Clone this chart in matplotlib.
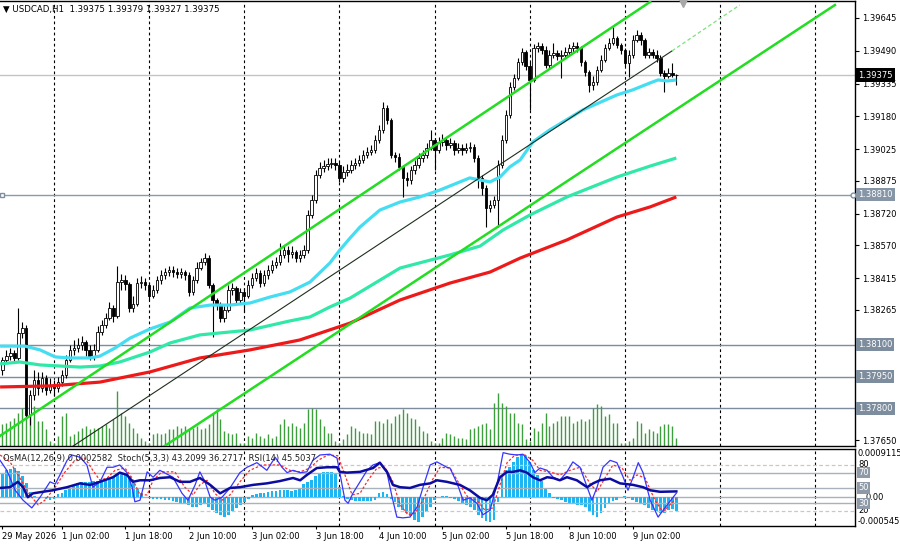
import matplotlib
matplotlib.use("Agg")
import matplotlib.pyplot as plt
import matplotlib.transforms as mtransforms
import numpy as np

plt.rcParams['font.family'] = ['DejaVu Sans']

# ---------------- data ----------------
first_bar = -13          # bar index of first candle (0 = 1 Jun 00:00, H1 bars)
first_open = 1.37981
closes = [1.38028, 1.38047, 1.38061, 1.38038, 1.38156, 1.38180, 1.37768, 1.37863, 1.37934, 1.37896, 1.37943, 1.37887, 1.37910,
          1.37896, 1.37924, 1.37957, 1.38028, 1.38076, 1.38085, 1.38099, 1.38113, 1.38076, 1.38047,
          1.38076, 1.38161, 1.38194, 1.38227, 1.38274, 1.38236, 1.38397, 1.38407, 1.38388, 1.38274,
          1.38293, 1.38392, 1.38397, 1.38383, 1.38331, 1.38359, 1.38407, 1.38430, 1.38444, 1.38454,
          1.38444, 1.38435, 1.38444, 1.38430, 1.38350, 1.38407, 1.38463, 1.38492, 1.38510, 1.38383,
          1.38312, 1.38288, 1.38227, 1.38265, 1.38359, 1.38369, 1.38312, 1.38350, 1.38331, 1.38383,
          1.38416, 1.38440, 1.38392, 1.38430, 1.38454, 1.38477, 1.38492, 1.38525, 1.38548, 1.38529,
          1.38539, 1.38510, 1.38525, 1.38548, 1.38714, 1.38785, 1.38903, 1.38936, 1.38945, 1.38955,
          1.38960, 1.38950, 1.38889, 1.38917, 1.38926, 1.38950, 1.38960, 1.38974, 1.38997, 1.39012,
          1.39021, 1.39068, 1.39116, 1.39220, 1.39163, 1.38997, 1.38988, 1.38941, 1.38889, 1.38879,
          1.38926, 1.38950, 1.38983, 1.38997, 1.39030, 1.39068, 1.39021, 1.39059, 1.39068, 1.39045,
          1.39054, 1.39021, 1.39030, 1.39021, 1.39030, 1.39035, 1.38983, 1.38889, 1.38841, 1.38747,
          1.38761, 1.38785, 1.38950, 1.39068, 1.39187, 1.39319, 1.39361, 1.39437, 1.39484, 1.39418,
          1.39352, 1.39503, 1.39513, 1.39494, 1.39423, 1.39470, 1.39480, 1.39465, 1.39470, 1.39484,
          1.39503, 1.39513, 1.39503, 1.39437, 1.39390, 1.39328, 1.39342, 1.39399, 1.39446, 1.39503,
          1.39527, 1.39550, 1.39517, 1.39494, 1.39432, 1.39470, 1.39541, 1.39565, 1.39541, 1.39470,
          1.39484, 1.39470, 1.39456, 1.39385, 1.39371, 1.39385, 1.39375, 1.39375]
highs = [1.38043, 1.38076, 1.38085, 1.38076, 1.38274, 1.38208, 1.38194, 1.37887, 1.37981, 1.37972, 1.37972, 1.37957, 1.37943,
         1.37934, 1.37948, 1.37981, 1.38052, 1.38099, 1.38123, 1.38132, 1.38142, 1.38123, 1.38099,
         1.38104, 1.38189, 1.38217, 1.38251, 1.38303, 1.38288, 1.38473, 1.38435, 1.38430, 1.38397,
         1.38331, 1.38416, 1.38425, 1.38416, 1.38397, 1.38383, 1.38425, 1.38454, 1.38463, 1.38473,
         1.38473, 1.38463, 1.38463, 1.38454, 1.38444, 1.38425, 1.38492, 1.38510, 1.38534, 1.38525,
         1.38392, 1.38321, 1.38303, 1.38284, 1.38383, 1.38392, 1.38378, 1.38369, 1.38369, 1.38407,
         1.38440, 1.38463, 1.38454, 1.38454, 1.38477, 1.38501, 1.38515, 1.38581, 1.38572, 1.38567,
         1.38567, 1.38548, 1.38548, 1.38572, 1.38737, 1.38808, 1.38926, 1.38964, 1.38974, 1.38983,
         1.38983, 1.38983, 1.38964, 1.38945, 1.38955, 1.38974, 1.38983, 1.38997, 1.39021, 1.39035,
         1.39045, 1.39092, 1.39139, 1.39248, 1.39234, 1.39172, 1.39012, 1.39007, 1.38950, 1.38917,
         1.38945, 1.38974, 1.39007, 1.39021, 1.39054, 1.39116, 1.39078, 1.39083, 1.39097, 1.39078,
         1.39078, 1.39068, 1.39054, 1.39049, 1.39054, 1.39059, 1.39049, 1.38997, 1.38903, 1.38856,
         1.38785, 1.38804, 1.38974, 1.39092, 1.39210, 1.39342, 1.39380, 1.39456, 1.39503, 1.39494,
         1.39437, 1.39522, 1.39532, 1.39527, 1.39513, 1.39494, 1.39527, 1.39494, 1.39494, 1.39508,
         1.39522, 1.39532, 1.39532, 1.39513, 1.39446, 1.39399, 1.39371, 1.39418, 1.39470, 1.39522,
         1.39550, 1.39603, 1.39560, 1.39527, 1.39503, 1.39494, 1.39565, 1.39588, 1.39579, 1.39550,
         1.39503, 1.39498, 1.39494, 1.39470, 1.39399, 1.39409, 1.39432, 1.39379]
lows = [1.37957, 1.38014, 1.38028, 1.38019, 1.38028, 1.38132, 1.37754, 1.37721, 1.37839, 1.37863, 1.37877, 1.37863, 1.37872,
        1.37858, 1.37877, 1.37906, 1.37943, 1.38019, 1.38052, 1.38066, 1.38076, 1.38047, 1.38028,
        1.38028, 1.38066, 1.38147, 1.38180, 1.38217, 1.38208, 1.38227, 1.38359, 1.38359, 1.38255,
        1.38255, 1.38284, 1.38369, 1.38359, 1.38312, 1.38321, 1.38345, 1.38388, 1.38411, 1.38425,
        1.38421, 1.38416, 1.38416, 1.38407, 1.38331, 1.38336, 1.38392, 1.38454, 1.38477, 1.38369,
        1.38137, 1.38265, 1.38208, 1.38208, 1.38255, 1.38336, 1.38293, 1.38298, 1.38255, 1.38321,
        1.38369, 1.38402, 1.38373, 1.38378, 1.38411, 1.38440, 1.38463, 1.38477, 1.38510, 1.38492,
        1.38510, 1.38492, 1.38492, 1.38510, 1.38534, 1.38700, 1.38771, 1.38889, 1.38917, 1.38926,
        1.38936, 1.38926, 1.38870, 1.38870, 1.38898, 1.38912, 1.38931, 1.38945, 1.38960, 1.38983,
        1.38997, 1.39007, 1.39054, 1.39101, 1.39144, 1.38983, 1.38964, 1.38926, 1.38799, 1.38851,
        1.38860, 1.38908, 1.38936, 1.38964, 1.38983, 1.39021, 1.38926, 1.39007, 1.39040, 1.39021,
        1.39030, 1.38997, 1.39007, 1.38997, 1.39007, 1.39012, 1.38964, 1.38841, 1.38808, 1.38657,
        1.38728, 1.38747, 1.38657, 1.38936, 1.39054, 1.39172, 1.39305, 1.39352, 1.39423, 1.39399,
        1.39210, 1.39342, 1.39484, 1.39475, 1.39409, 1.39409, 1.39456, 1.39446, 1.39361, 1.39456,
        1.39470, 1.39484, 1.39484, 1.39418, 1.39371, 1.39295, 1.39305, 1.39328, 1.39390, 1.39437,
        1.39494, 1.39517, 1.39503, 1.39475, 1.39418, 1.39366, 1.39456, 1.39532, 1.39517, 1.39456,
        1.39456, 1.39456, 1.39437, 1.39371, 1.39295, 1.39361, 1.39366, 1.39327]
volumes = [2200, 2300, 2500, 2800, 3300, 3800, 4700, 4300, 4000, 2500, 2500, 1700, 500,
           300,
           1000, 3000, 3300, 1000, 1200, 1500, 1800, 2000, 1700, 1800, 1800, 2000, 2200, 1800, 2700,
           5500,
           3300, 3000, 2300, 1800, 1300, 800, 500, 300,
           1200, 1300, 1200, 1300, 1700, 1700, 2000, 1800, 2000, 1700, 1800, 2000, 1700, 1800, 2200, 3300,
           3700, 2700, 1500, 1300, 1200, 1300, 300, 300,
           1000, 800, 1300, 1000, 800, 1200, 800, 1000, 2200, 2700, 2000, 2300, 2000, 1800, 2300, 3700,
           3800, 3700, 2700, 2000, 1300, 1300, 500, 300,
           700, 1200, 2000, 1800, 1500, 1300, 1300, 1200, 2500, 2500, 2300, 2700, 2300, 3000, 3200, 3700,
           3300, 2800, 2700, 2000, 1500, 1300, 500, 300, 300,
           800, 1300, 1200, 1000, 800, 800, 700, 1700, 1800, 2000, 2200, 2300, 1700, 4300, 5300, 4300,
           4000, 3300, 3300, 2300, 2200, 700, 500,
           1800, 1500, 2300, 3300, 2000, 2300, 2500, 3000, 3000, 3000, 2300, 2500, 2700, 2500, 2700, 3800,
           4200, 4000, 3000, 3200, 2300, 2300, 300, 300,
           500, 800, 2500, 2300, 1300, 1700, 1500, 1300, 2000, 2200, 2200, 2000, 800]
osma = [0.00046, 0.00052, 0.00054, 0.00055, 0.00050, 0.00040, 0.00027, 0.00010, 0.00002, 0.00001, 0.00001, -0.00004, -0.00005,
        -0.00004, 0.00006, 0.00008, 0.00014, 0.00018, 0.00023, 0.00027, 0.00029, 0.00029, 0.00028,
        0.00030, 0.00030, 0.00032, 0.00033, 0.00034, 0.00038, 0.00044, 0.00046, 0.00045, 0.00040,
        0.00027, 0.00016, 0.00008, 0.00001, -0.00002, -0.00003, -0.00003, -0.00004, -0.00005, -0.00006,
        -0.00008, -0.00010, -0.00011, -0.00013, -0.00015, -0.00018, -0.00019, -0.00015, -0.00012, -0.00018,
        -0.00024, -0.00030, -0.00034, -0.00037, -0.00033, -0.00026, -0.00021, -0.00015, -0.00010, -0.00004,
        0.00004, 0.00006, 0.00007, 0.00008, 0.00010, 0.00011, 0.00012, 0.00013, 0.00014, 0.00013,
        0.00012, 0.00013, 0.00015, 0.00024, 0.00029, 0.00033, 0.00040, 0.00045, 0.00047, 0.00048,
        0.00048, 0.00046, 0.00019, 0.00002, -0.00003, -0.00006, -0.00007, -0.00008, -0.00008, -0.00008,
        -0.00007, -0.00005, 0.00008, 0.00010, 0.00006, -0.00003, -0.00010, -0.00019, -0.00025, -0.00030,
        -0.00036, -0.00043, -0.00047, -0.00038, -0.00028, -0.00018, -0.00005, 0.00001, 0.00002, 0.00002,
        -0.00002, -0.00004, -0.00008, -0.00012, -0.00015, -0.00018, -0.00024, -0.00033, -0.00040, -0.00045,
        -0.00047, -0.00043, -0.00010, 0.00038, 0.00051, 0.00058, 0.00066, 0.00076, 0.00080, 0.00078,
        0.00066, 0.00052, 0.00042, 0.00030, 0.00016, 0.00008, -0.00002, -0.00004, -0.00005, -0.00009,
        -0.00011, -0.00013, -0.00014, -0.00015, -0.00019, -0.00026, -0.00033, -0.00037, -0.00030, -0.00021,
        -0.00011, -0.00007, -0.00005, 0.00001, 0.00002, -0.00002, -0.00006, -0.00009, -0.00011, -0.00015,
        -0.00020, -0.00024, -0.00027, -0.00030, -0.00030, -0.00024, -0.00022, -0.00026]

# moving averages (bar time, price)
ma_fast_t = [-13.6, -7.3, -3.5, 0.3, 4.0, 9.1, 11.6, 15.4, 19.2, 24.2, 29.3, 34.3, 39.4, 44.4, 49.5, 54.5, 59.5,
             64.6, 69.6, 72.1, 74.7, 77.2, 82.2, 87.3, 92.3, 97.4, 102.4, 104.9, 107.5, 110.0, 112.5, 115.0,
             117.6, 120.8, 125.1, 133.4, 142.0, 146.0, 150.4, 152.4, 154.7, 157.0]
ma_fast_p = [1.38094, 1.38094, 1.38076, 1.38043, 1.38038, 1.38038, 1.38047, 1.38085, 1.38132, 1.38175, 1.38208,
             1.38274, 1.38288, 1.38288, 1.38298, 1.38326, 1.38350, 1.38397, 1.38487, 1.38548, 1.38605, 1.38657,
             1.38737, 1.38775, 1.38799, 1.38832, 1.38870, 1.38889, 1.38879, 1.38870, 1.38893, 1.38941,
             1.38974, 1.39059, 1.39116, 1.39210, 1.39281, 1.39305, 1.39338, 1.39352, 1.39347, 1.39352]
ma_mid_t = [-13.6, -8.6, -3.5, 1.5, 6.6, 11.6, 16.6, 24.2, 29.3, 36.8, 49.4, 59.5, 64.6, 69.6, 74.7,
            87.3, 99.9, 107.5, 113.3, 120.1, 129.4, 142.0, 150.4, 157.0]
ma_mid_p = [1.38010, 1.38019, 1.38005, 1.38000, 1.37995, 1.38000, 1.38019, 1.38066, 1.38109, 1.38147, 1.38170,
            1.38213, 1.38232, 1.38279, 1.38321, 1.38463, 1.38525, 1.38567, 1.38643, 1.38714, 1.38799,
            1.38893, 1.38945, 1.38983]
ma_slow_t = [-13.6, -1.0, 11.6, 24.2, 36.8, 49.4, 62.0, 74.7, 87.3, 99.9, 110.0, 117.6, 129.4, 142.0, 150.4, 157.0]
ma_slow_p = [1.37901, 1.37906, 1.37924, 1.37972, 1.38038, 1.38076, 1.38123, 1.38203, 1.38312, 1.38392,
             1.38444, 1.38510, 1.38596, 1.38704, 1.38752, 1.38799]

# drawn trend lines (bar time, price anchors)
chan_upper = ([-13.6, 150.4], [1.37670, 1.39721])
chan_lower = ([27.5, 197.0], [1.37617, 1.39706])
trend_line = ([3.3, 155.9], [1.37603, 1.39489])
trend_ext = ([155.9, 173.0], [1.39489, 1.39706])

# oscillators (bar time, value)
stoch_t = [-13.6, -11.9, -9.8, -7.8, -5.6, -3.5, -1.0, 0.3, 1.5, 3.3, 4.5, 6.6, 8.3, 9.8, 11.6, 13.4, 14.9,
           16.6, 18.4, 19.7, 20.4, 21.7, 23.5, 25.0, 26.7, 30.0, 32.3, 33.8, 35.6, 36.8, 38.1, 39.4, 40.6,
           42.4, 44.4, 46.9, 48.7, 51.2, 53.7, 55.8, 57.5, 58.8, 60.3, 62.1, 63.8, 65.3, 67.1, 69.6, 71.4,
           72.1, 73.4, 74.2, 75.4, 77.2, 79.0, 80.5, 82.2, 84.0, 85.3, 86.5, 88.0, 89.8, 91.6, 93.1, 94.9,
           96.6, 99.1, 99.9, 101.7, 103.2, 104.9, 106.7, 108.2, 110.0, 111.8, 113.3, 115.0, 116.8, 118.3,
           120.1, 121.3, 122.6, 124.4, 125.9, 127.6, 129.4, 130.9, 132.7, 134.5, 135.7, 137.0, 138.5, 140.3,
           142.0, 143.6, 144.8, 146.1, 147.4, 148.6, 150.4, 152.4, 154.1, 157.0]
stoch_v = [86, 73, 47, 34, 24, 38, 58, 55, 67, 86, 93, 90, 80, 51, 58, 77, 77,
           80, 70, 51, 32, 34, 71, 64, 73, 64, 43, 34, 54, 71, 58, 38, 34,
           38, 50, 70, 77, 83, 73, 90, 77, 70, 73, 70, 71, 86, 93, 94, 89,
           70, 34, 30, 43, 58, 73, 80, 83, 70, 38, 12, 11, 12, 25, 51, 80,
           84, 77, 76, 56, 34, 37, 30, 15, 21, 56, 96, 94, 93, 94,
           83, 70, 76, 73, 64, 60, 71, 84, 77, 51, 34, 51, 77, 86,
           83, 64, 47, 64, 83, 70, 34, 12, 24, 43.2]
signal_t = [-13.6, -11.1, -8.6, -6.1, -4.0, -2.3, 0.3, 2.8, 5.3, 7.8, 9.8, 11.6, 13.4, 15.4, 17.9, 19.7, 21.7,
            23.5, 25.0, 27.2, 30.5, 33.0, 35.1, 36.8, 38.6, 40.6, 42.4, 44.4, 46.9, 49.4, 52.5, 57.0, 59.5,
            62.1, 64.6, 66.6, 69.1, 71.6, 73.4, 75.2, 77.2, 79.2, 81.5, 83.5, 85.5, 87.3, 89.3, 91.1, 93.1,
            95.4, 97.4, 99.9, 102.4, 104.4, 106.7, 108.7, 110.7, 112.5, 114.3, 116.3, 118.8, 120.8, 122.6,
            125.1, 127.6, 130.2, 132.7, 135.2, 137.0, 139.0, 141.0, 143.3, 145.3, 147.1, 149.1, 151.6, 153.6, 157.0]
signal_v = [93, 84, 63, 41, 28, 34, 51, 71, 86, 89, 73, 60, 63, 73, 76, 63, 41,
            41, 60, 71, 71, 51, 41, 54, 60, 43, 34, 41, 58, 73, 80, 80, 73,
            71, 76, 86, 93, 92, 67, 41, 43, 60, 76, 77, 58, 28, 15, 17, 34,
            60, 77, 76, 54, 38, 34, 21, 24, 54, 83, 93, 93, 86, 73,
            71, 67, 73, 77, 56, 45, 63, 80, 76, 60, 67, 63, 34, 19, 36.3]
rsi_t = [-13.6, -11.1, -9.1, -7.8, -6.6, -5.3, -2.8, -0.3, 3.3, 6.6, 9.1, 11.6, 14.9, 16.6, 18.4, 19.9, 21.7,
         24.2, 26.7, 29.3, 31.8, 34.3, 36.8, 39.4, 41.9, 44.4, 46.9, 50.2, 53.7, 57.0, 60.3, 62.1, 63.8,
         66.3, 68.9, 71.4, 72.1, 73.9, 77.2, 80.5, 82.2, 84.0, 85.5, 87.3, 89.8, 92.3, 94.9, 96.6, 99.1,
         102.4, 104.9, 107.5, 109.2, 110.7, 112.5, 114.3, 115.8, 117.6, 119.3, 120.8, 122.6, 124.4, 125.9,
         127.6, 129.4, 131.9, 134.5, 136.0, 137.7, 140.3, 142.8, 146.1, 148.6, 150.4, 152.9, 157.0]
rsi_v = [50, 51, 58, 51, 38, 43, 45, 47, 51, 56, 54, 58, 64, 70, 67, 58, 60,
         60, 63, 64, 58, 58, 63, 54, 43, 50, 51, 54, 56, 59, 63, 60, 67,
         76, 77, 77, 71, 70, 71, 76, 83, 71, 54, 51, 50, 54, 56, 60, 58,
         54, 47, 37, 34, 41, 64, 71, 71, 73, 70, 64, 60, 64, 63,
         60, 64, 60, 51, 56, 60, 62, 56, 54, 51, 47, 45, 45.5]

day_starts = [0, 24, 48, 72, 96, 120, 144, 168, 192]
tick_bars = [-13, 2, 18, 34, 50, 66, 82, 98, 114, 130, 146]
tick_labels = ["29 May 2026", "1 Jun 02:00", "1 Jun 18:00", "2 Jun 10:00", "3 Jun 02:00", "3 Jun 18:00",
               "4 Jun 10:00", "5 Jun 02:00", "5 Jun 18:00", "8 Jun 10:00", "9 Jun 02:00"]
price_ticks = [1.39645, 1.39490, 1.39335, 1.39180, 1.39025, 1.38875, 1.38720, 1.38570, 1.38415, 1.38265, 1.37650]
last_price = 1.39375
mark_level = 1.38810
gray_levels = [1.38100, 1.37950, 1.37800]
title = "\u25BC USDCAD,H1  1.39375 1.39379 1.39327 1.39375"
ind_title = "OsMA(12,26,9) 0.0002582  Stoch(5,3,3) 43.2099 36.2717  RSI(14) 45.5037"

# ---------------- figure ----------------
W, H = 900, 548
fig = plt.figure(figsize=(W / 100, H / 100), dpi=100)
fig.patch.set_facecolor('white')


def rect(x0, y0, x1, y1):
    return [x0 / W, 1 - y1 / H, (x1 - x0) / W, (y1 - y0) / H]


XL = (-13.62, 202.07)
ax = fig.add_axes(rect(0, 1, 855, 446))
axo = fig.add_axes(rect(0, 449, 855, 526))
axi = fig.add_axes(rect(0, 449, 855, 526))
axi.set_facecolor('none')

for a in (ax, axo, axi):
    a.set_xlim(*XL)
    a.spines['left'].set_visible(False)
    for s in ('top', 'right', 'bottom'):
        a.spines[s].set_color('black')
        a.spines[s].set_linewidth(1.0)
for s in axo.spines.values():
    s.set_visible(False)

ax.set_ylim(1.37622, 1.39725)
axo.set_ylim(-0.000545, 0.0009115)
axi.set_ylim(0.4, 100.8)

# grid (day separators)
for d in day_starts:
    ax.axvline(d, color='black', lw=0.8, ls=(0, (2.5, 2.5)), zorder=1)
    axo.axvline(d, color='black', lw=0.8, ls=(0, (2.5, 2.5)), zorder=1)

# horizontal levels
ax.axhline(last_price, color='#C4C4C4', lw=1.0, zorder=2)
ax.axhline(mark_level, color='#8C9AA8', lw=1.0, zorder=2)
for lv in gray_levels:
    ax.axhline(lv, color='#7D8D9D', lw=1.0, zorder=2)

# volumes at bottom of main window
n = len(closes)
idx = np.arange(first_bar, first_bar + n)
vtrans = mtransforms.blended_transform_factory(ax.transData, ax.transAxes)
vol = np.array(volumes, dtype=float)
ax.vlines(idx, 0, vol / 44500.0, transform=vtrans, color='#3E9E3E', lw=1.0, zorder=2)

# candles
c = np.array(closes)
o = np.concatenate([[first_open], c[:-1]])
hi = np.maximum(np.array(highs), np.maximum(o, c))
lo = np.minimum(np.array(lows), np.minimum(o, c))
ax.vlines(idx, lo, hi, color='black', lw=0.8, zorder=4)
up = c >= o
bh = np.maximum(np.abs(c - o), 0.000015)
bb = np.minimum(o, c)
ax.bar(idx[up], bh[up], bottom=bb[up], width=0.62, color='white', edgecolor='black', lw=0.6, zorder=5)
ax.bar(idx[~up], bh[~up], bottom=bb[~up], width=0.62, color='black', edgecolor='black', lw=0.6, zorder=5)

# moving averages
ax.plot(ma_slow_t, ma_slow_p, color='#EE1A1A', lw=2.3, zorder=6, solid_capstyle='butt')
ax.plot(ma_mid_t, ma_mid_p, color='#30E8A8', lw=2.3, zorder=6, solid_capstyle='butt')
ax.plot(ma_fast_t, ma_fast_p, color='#45DDF2', lw=2.3, zorder=6, solid_capstyle='butt')

# trend lines
ax.plot(*chan_upper, color='#22DD22', lw=1.8, zorder=7)
ax.plot(*chan_lower, color='#22DD22', lw=1.8, zorder=7)
ax.plot(*trend_line, color='#1E2E1E', lw=0.8, zorder=7)
ax.plot(*trend_ext, color='#7EE07E', lw=0.9, ls=(0, (3, 2)), zorder=7)

# small markers
ax.plot([201.5], [mark_level], marker='o', ms=3.5, mfc='white', mec='#7F8FA0', mew=1, zorder=8, clip_on=False)
ax.plot([-13.1], [mark_level], marker='s', ms=3, mfc='white', mec='#7F8FA0', mew=1, zorder=8, clip_on=False)
ax.plot([158.7], [0.995], marker='v', ms=6, color='#A8A8A8', transform=vtrans, zorder=8, clip_on=False)

# right price axis
ax.set_xticks([])
ax.yaxis.tick_right()
ax.set_yticks(price_ticks)
ax.set_yticklabels([f"{v:.5f}" for v in price_ticks])
ax.tick_params(axis='y', direction='out', length=3, width=0.8, labelsize=6, pad=2, colors='black')

ptrans = mtransforms.blended_transform_factory(ax.transAxes, ax.transData)
ax.text(1.0035, last_price, f"{last_price:.5f}", transform=ptrans, fontsize=6, color='white',
        va='center', ha='left', zorder=10,
        bbox=dict(boxstyle='square,pad=0.25', fc='black', ec='none'))
ax.text(1.0035, mark_level, f"{mark_level:.5f}", transform=ptrans, fontsize=6, color='white',
        va='center', ha='left', zorder=10,
        bbox=dict(boxstyle='square,pad=0.25', fc='#8796A6', ec='none'))
for lv in gray_levels:
    ax.text(1.0035, lv, f"{lv:.5f}", transform=ptrans, fontsize=6, color='white',
            va='center', ha='left', zorder=10,
            bbox=dict(boxstyle='square,pad=0.25', fc='#7D8D9D', ec='none'))

# ---------------- indicator window ----------------
axo.bar(idx, osma, width=0.7, color='#1DB6F2', zorder=3)
axo.axhline(0, color='#A9B1BA', lw=1.0, zorder=2)
axo.set_xticks([])
axo.set_yticks([])

axi.axhline(80, color='#C8C8C8', lw=0.9, ls=(0, (3, 2)), zorder=1)
axi.axhline(20, color='#C8C8C8', lw=0.9, ls=(0, (3, 2)), zorder=1)
for lv in (70, 50, 30):
    axi.axhline(lv, color='#A9B1BA', lw=1.0, zorder=1)
axi.plot(signal_t, signal_v, color='#FF2A2A', lw=0.9, ls=(0, (2, 1.5)), zorder=3)
axi.plot(stoch_t, stoch_v, color='#3535FF', lw=0.9, zorder=4)
axi.plot(rsi_t, rsi_v, color='#0C0CA0', lw=1.8, zorder=5)

axi.set_yticks([])
axi.set_xticks(tick_bars)
axi.set_xticklabels(tick_labels, fontsize=6)
for lbl in axi.get_xticklabels():
    lbl.set_horizontalalignment('left')
axi.tick_params(axis='x', direction='out', length=2, width=0.8, pad=2.5, colors='black')

itrans = mtransforms.blended_transform_factory(axi.transAxes, axi.transData)
for v in (80, 20):
    axi.text(1.0035, v, str(v), transform=itrans, fontsize=6, va='center', ha='left', color='black', clip_on=False)
for v in (70, 50, 30):
    axi.text(1.0035, v, str(v), transform=itrans, fontsize=6, va='center', ha='left', color='white',
             clip_on=False, zorder=10, bbox=dict(boxstyle='square,pad=0.15', fc='#8E9AA8', ec='none'))
otrans = mtransforms.blended_transform_factory(axo.transAxes, axo.transData)
axo.text(1.012, 0, "0.00", transform=otrans, fontsize=6, va='center', ha='left', color='black', clip_on=False)
axo.text(1.0035, 1.0, "0.0009115", transform=axo.transAxes, fontsize=6, va='top', ha='left', clip_on=False)
axo.text(1.0035, 0.0, "-0.000545", transform=axo.transAxes, fontsize=6, va='bottom', ha='left', clip_on=False)

axi.text(0.004, 0.883, ind_title, transform=axi.transAxes, fontsize=6, va='center', ha='left',
         color='#202020', zorder=10)

fig.text(3 / W, 1 - 9 / H, title, fontsize=6.2, va='center', ha='left', color='black')

fig.savefig("out.png", dpi=100, facecolor='white')
